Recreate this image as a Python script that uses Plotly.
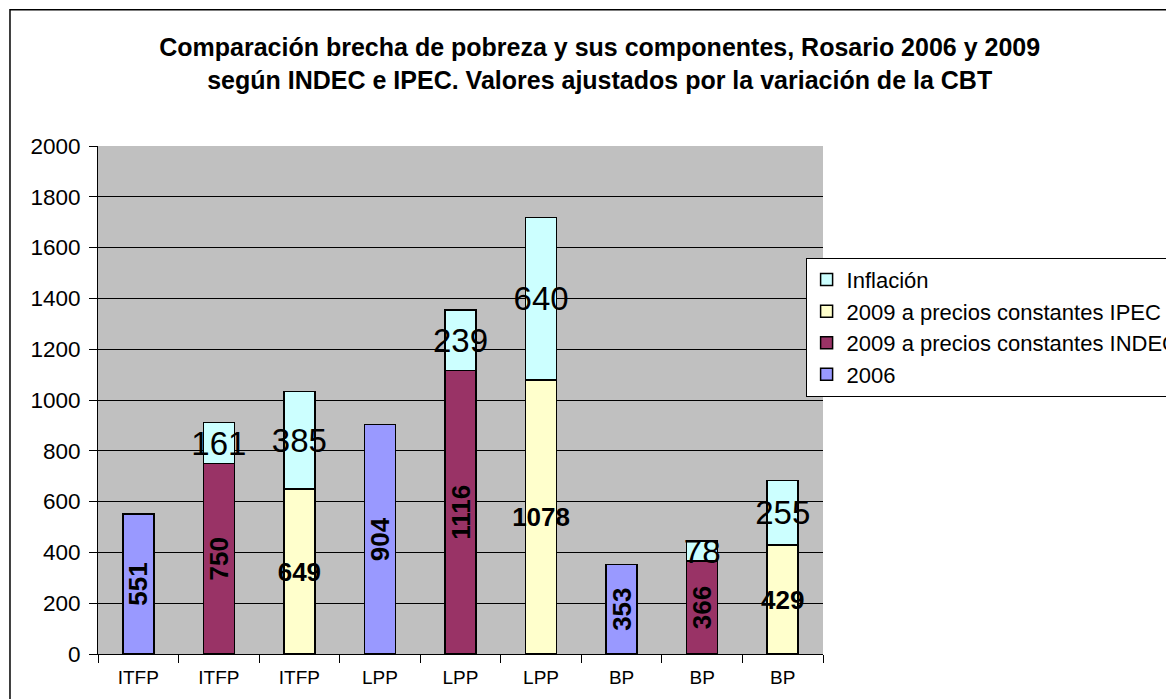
import plotly.graph_objects as go

# --- Data ---
positions = [0, 1, 2, 3, 4, 5, 6, 7, 8]
tick_labels = ["ITFP", "ITFP", "ITFP", "LPP", "LPP", "LPP", "BP", "BP", "BP"]

v2006 = [551, None, None, 904, None, None, 353, None, None]
v2009_indec = [None, 750, None, None, 1116, None, None, 366, None]
v2009_ipec = [None, None, 649, None, None, 1078, None, None, 429]
inflacion = [None, 161, 385, None, 239, 640, None, 78, 255]

FONT = "Liberation Sans, Arial, sans-serif"
bar_w = 0.385
outline = dict(color="black", width=1.5)
bold_font = dict(family=FONT, size=26, color="black")

fig = go.Figure()

fig.add_trace(go.Bar(
    x=positions, y=v2006, name="2006", width=bar_w,
    marker=dict(color="#9999FF", line=outline),
    texttemplate="<b>%{y}</b>", textposition="inside", textangle=-90,
    insidetextanchor="middle", constraintext="none", textfont=bold_font
))
fig.add_trace(go.Bar(
    x=positions, y=v2009_indec, name="2009 a precios constantes INDEC", width=bar_w,
    marker=dict(color="#993366", line=outline),
    texttemplate="<b>%{y}</b>", textposition="inside", textangle=-90,
    insidetextanchor="middle", constraintext="none", textfont=bold_font
))
fig.add_trace(go.Bar(
    x=positions, y=v2009_ipec, name="2009 a precios constantes IPEC", width=bar_w,
    marker=dict(color="#FFFFCC", line=outline),
    texttemplate="<b>%{y}</b>", textposition="inside", textangle=0,
    insidetextanchor="middle", constraintext="none", textfont=bold_font
))
fig.add_trace(go.Bar(
    x=positions, y=inflacion, name="Inflación", width=bar_w,
    marker=dict(color="#CCFFFF", line=outline),
    texttemplate="%{y}", textposition="inside", textangle=0,
    insidetextanchor="middle", constraintext="none",
    textfont=dict(family=FONT, size=33, color="black")
))

# page body has an 8px margin, so margins are shifted by that amount
fig.update_layout(
    barmode="stack",
    width=1174, height=699,
    margin=dict(l=90, r=359, t=138, b=53, autoexpand=False),
    paper_bgcolor="white",
    plot_bgcolor="#C0C0C0",
    font=dict(family=FONT, color="black"),
    title=dict(
        text="<b>Comparación brecha de pobreza y sus componentes, Rosario 2006 y 2009<br>"
             "según INDEC e IPEC. Valores ajustados por la variación de la CBT</b>",
        x=0.504, xref="container", xanchor="center",
        y=0.9313, yref="container", yanchor="middle",
        font=dict(family=FONT, size=25, color="black")
    ),
    legend=dict(
        x=0.976, y=0.78, xanchor="left", yanchor="top",
        traceorder="reversed",
        bgcolor="white", bordercolor="black", borderwidth=1,
        font=dict(family=FONT, size=22, color="black"),
        tracegroupgap=0
    ),
    showlegend=True,
)

fig.update_xaxes(
    range=[-0.5, 8.5],
    tickvals=positions, ticktext=tick_labels,
    ticks="", showgrid=False, zeroline=False,
    showline=True, linecolor="black", linewidth=1,
    ticklabelstandoff=6,
    tickfont=dict(family=FONT, size=19, color="black"),
    minor=dict(tickvals=[p - 0.5 for p in positions] + [8.5], ticks="outside",
               ticklen=8, tickcolor="black", tickwidth=1, showgrid=False)
)
fig.update_yaxes(
    range=[0, 2000], dtick=200,
    ticks="outside", ticklen=8, tickcolor="black",
    showgrid=True, gridcolor="black", gridwidth=1,
    zeroline=False,
    showline=True, linecolor="black", linewidth=1,
    ticklabelstandoff=4,
    tickfont=dict(family=FONT, size=22.5, color="black")
)

# outer chart border
fig.add_shape(type="rect", xref="paper", yref="paper",
              x0=-0.1214, y0=-1, x1=2, y1=1.268,
              line=dict(color="black", width=1.5), fillcolor="rgba(0,0,0,0)")

fig.write_html("out.html")
